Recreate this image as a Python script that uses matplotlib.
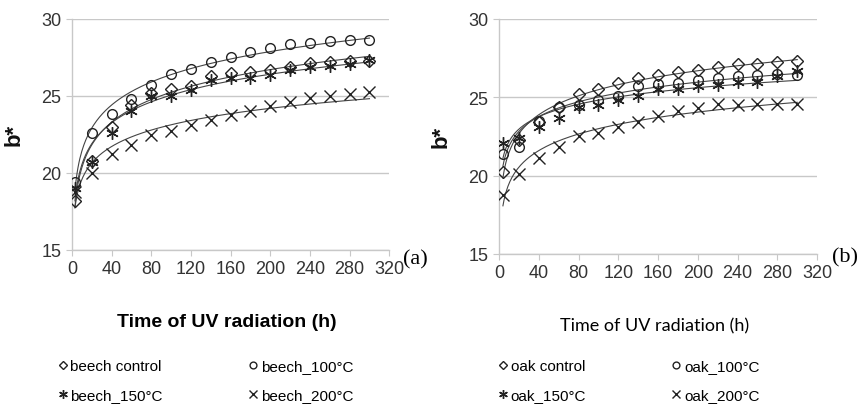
import numpy as np
import matplotlib
matplotlib.use("Agg")
import matplotlib.pyplot as plt

# time of UV radiation (h)
hours = [3, 20, 40, 60, 80, 100, 120, 140, 160, 180, 200, 220, 240, 260, 280, 300]

# beech b* values
beech_control = [18.2, 20.75, 23.0, 24.4, 25.2, 25.45, 25.65, 26.3, 26.5, 26.55, 26.65, 26.85, 27.15, 27.2, 27.25, 27.25]
beech_100 = [19.4, 22.6, 23.8, 24.8, 25.7, 26.4, 26.75, 27.2, 27.55, 27.85, 28.1, 28.35, 28.45, 28.55, 28.6, 28.6]
beech_150 = [19.0, 20.7, 22.6, 24.05, 25.0, 25.0, 25.4, 26.05, 26.15, 26.15, 26.35, 26.65, 26.85, 26.95, 27.1, 27.3]
beech_200 = [18.75, 20.0, 21.2, 21.8, 22.45, 22.7, 23.1, 23.45, 23.75, 24.05, 24.35, 24.6, 24.85, 25.0, 25.1, 25.25]

# oak b* values
oak_hours = [4, 20, 40, 60, 80, 100, 120, 140, 160, 180, 200, 220, 240, 260, 280, 300]
oak_control = [20.26, 22.3, 23.45, 24.36, 25.2, 25.5, 25.9, 26.2, 26.4, 26.6, 26.75, 26.95, 27.1, 27.15, 27.25, 27.3]
oak_100 = [21.4, 21.8, 23.5, 24.35, 24.5, 24.8, 25.1, 25.7, 25.85, 25.9, 26.1, 26.25, 26.35, 26.45, 26.5, 26.45]
oak_150 = [22.1, 22.4, 23.1, 23.7, 24.4, 24.5, 24.8, 25.1, 25.55, 25.55, 25.7, 25.75, 25.95, 26.0, 26.35, 26.7]
oak_200 = [18.75, 20.1, 21.15, 21.85, 22.5, 22.7, 23.1, 23.45, 23.8, 24.15, 24.3, 24.6, 24.5, 24.6, 24.6, 24.6]

beech_labels = ["beech control", "beech_100°C", "beech_150°C", "beech_200°C"]
oak_labels = ["oak control", "oak_100°C", "oak_150°C", "oak_200°C"]

markers = [dict(marker="D", ms=6.5), dict(marker="o", ms=7),
           dict(marker=(6, 2, 0), ms=9), dict(marker="x", ms=8.5)]

plt.rcParams["font.family"] = ["Liberation Sans", "DejaVu Sans"]

fig = plt.figure(figsize=(8.67, 4.06), dpi=100)
ax_a = fig.add_axes([0.083, 0.382, 0.366, 0.569])
ax_b = fig.add_axes([0.5755, 0.372, 0.367, 0.579])


def draw_panel(ax, x, series, labels):
    x = np.array(x, dtype=float)
    handles = []
    xs = np.linspace(x[0], x[-1], 300)
    for vals, lab, mk in zip(series, labels, markers):
        # logarithmic trendline like the Excel original
        a, b = np.polyfit(np.log(x), vals, 1)
        ax.plot(xs, a * np.log(xs) + b, color="#444444", lw=0.8, zorder=2)
        h, = ax.plot(x, vals, ls="none", mfc="none", mec="#222222", mew=1.0,
                     label=lab, zorder=3, **mk)
        handles.append(h)
    ax.set_xlim(0, 320)
    ax.set_ylim(15, 30)
    ax.set_xticks(range(0, 321, 40))
    ax.set_yticks([15, 20, 25, 30])
    ax.grid(axis="y", color="#c8c8c8", lw=1.0)
    ax.set_axisbelow(True)
    for s in ["top", "right"]:
        ax.spines[s].set_visible(False)
    for s in ["left", "bottom"]:
        ax.spines[s].set_color("#c8c8c8")
        ax.spines[s].set_linewidth(1.0)
    ax.tick_params(axis="both", colors="#c8c8c8", labelcolor="#333333",
                   labelsize=13, length=4)
    ax.set_ylabel("b*", fontsize=16, fontweight="bold", color="#111111", labelpad=12)
    return handles


h_a = draw_panel(ax_a, hours, [beech_control, beech_100, beech_150, beech_200], beech_labels)
h_b = draw_panel(ax_b, oak_hours, [oak_control, oak_100, oak_150, oak_200], oak_labels)

fig.text(0.479, 0.36, "(a)", family="Liberation Serif", fontsize=16, ha="center", va="center")
fig.text(0.975, 0.365, "(b)", family="Liberation Serif", fontsize=16, ha="center", va="center")

fig.text(0.262, 0.205, "Time of UV radiation (h)", fontweight="bold", fontsize=14,
         ha="center", va="center")
fig.text(0.755, 0.195, "Time of UV radiation (h)", family=["Lato", "Liberation Sans"],
         fontsize=13, ha="center", va="center")

order = [0, 2, 1, 3]
for handles, anchor in [(h_a, (0.06, 0.06)), (h_b, (0.568, 0.06))]:
    fig.legend([handles[i] for i in order], [handles[i].get_label() for i in order],
               ncol=2, loc="center left", bbox_to_anchor=anchor, frameon=False,
               fontsize=11, markerscale=0.7, handlelength=0.6, handletextpad=0.2,
               columnspacing=5.6, labelspacing=0.95, borderaxespad=0)

fig.savefig("out.png", dpi=100)
